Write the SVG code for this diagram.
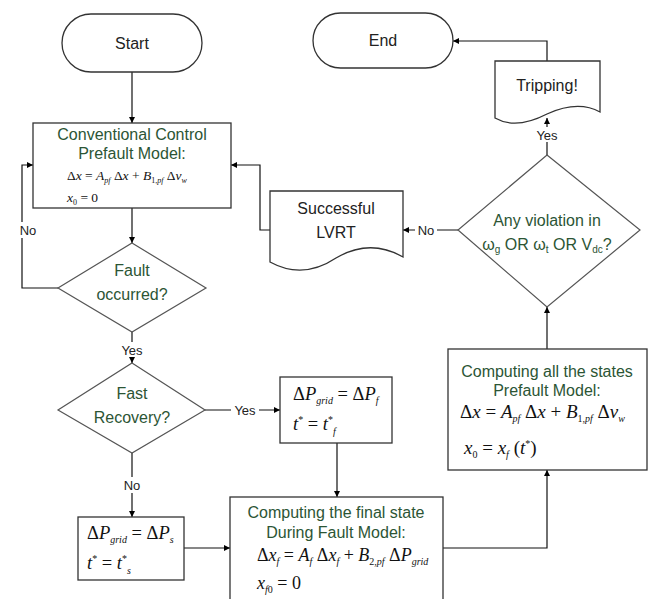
<svg xmlns="http://www.w3.org/2000/svg" width="651" height="599" viewBox="0 0 651 599">
<defs>
<marker id="ah" viewBox="0 0 8 8" refX="8" refY="4" markerWidth="6" markerHeight="6" orient="auto" markerUnits="userSpaceOnUse">
<path d="M0,0 L8,4 L0,8 Z" fill="#000"/>
</marker>
<style>
.shape{fill:#fff;stroke:#333;stroke-width:1.3}
.dia{fill:#fff;stroke:#555;stroke-width:1.2}
.t{font-family:"Liberation Sans",Arial,sans-serif;font-size:16px;fill:#222;text-anchor:middle}
.g{font-family:"Liberation Sans",Arial,sans-serif;font-size:16px;fill:#2c5535;text-anchor:middle}
.lbl{font-family:"Liberation Sans",Arial,sans-serif;font-size:13px;fill:#222;text-anchor:middle}
.m{font-family:"Liberation Serif","Times New Roman",serif;fill:#111}
.i{font-style:italic}
.c{fill:none;stroke:#111;stroke-width:1.2;marker-end:url(#ah)}
.bg{fill:#fff}
</style>
</defs>
<rect width="651" height="599" fill="#fff"/>

<g id="connectors">
<path class="c" d="M132,72 V123"/>
<path class="c" d="M132,208 V243"/>
<path class="c" d="M58,288 H22 V165 H33"/>
<path class="c" d="M132,332 V363"/>
<path class="c" d="M205,410 H280"/>
<path class="c" d="M132,453 V517"/>
<path class="c" d="M337,443 V497"/>
<path class="c" d="M184,548 H230"/>
<path class="c" d="M443,548 H547 V470"/>
<path class="c" d="M547,349 V307"/>
<path class="c" d="M547,155 V118"/>
<path class="c" d="M547,61 V41 H453"/>
<path class="c" d="M458,230 H403"/>
<path class="c" d="M270,230 H260 V165 H231"/>
<rect class="bg" x="16" y="222" width="24" height="16"/>
<text class="lbl" x="28" y="235">No</text>
<rect class="bg" x="118" y="342" width="28" height="15"/>
<text class="lbl" x="132" y="355">Yes</text>
<rect class="bg" x="231" y="403" width="28" height="15"/>
<text class="lbl" x="245" y="415">Yes</text>
<rect class="bg" x="120" y="477" width="24" height="16"/>
<text class="lbl" x="132" y="490">No</text>
<rect class="bg" x="533" y="127" width="28" height="15"/>
<text class="lbl" x="547" y="140">Yes</text>
<rect class="bg" x="415" y="223" width="22" height="15"/>
<text class="lbl" x="426" y="235">No</text>
</g>

<g id="start">
<rect class="shape" x="62" y="14" width="140" height="58" rx="29" ry="29"/>
<text class="t" x="132" y="49" font-size="17">Start</text>
</g>

<g id="end">
<rect class="shape" x="313" y="13" width="140" height="55" rx="27.5" ry="27.5"/>
<text class="t" x="383" y="46" font-size="17">End</text>
</g>

<g id="conventional">
<rect class="shape" x="33" y="123" width="198" height="85"/>
<text class="g" x="132" y="140">Conventional Control</text>
<text class="g" x="132" y="159">Prefault Model:</text>
<text class="m" x="67" y="180" font-size="13.5">Δ<tspan class="i">x</tspan> = <tspan class="i">A</tspan><tspan class="i" font-size="8" dy="3">pf</tspan><tspan dy="-3"> Δ</tspan><tspan class="i">x</tspan> + <tspan class="i">B</tspan><tspan font-size="8" dy="3">1,</tspan><tspan class="i" font-size="8">pf</tspan><tspan dy="-3"> Δ</tspan><tspan class="i">v</tspan><tspan class="i" font-size="8" dy="3">w</tspan></text>
<text class="m" x="67" y="202" font-size="13.5"><tspan class="i">x</tspan><tspan font-size="8" dy="3">0</tspan><tspan dy="-3"> = 0</tspan></text>
</g>

<g id="fault">
<polygon class="dia" points="132,243 206,288 132,332 58,288"/>
<text class="g" x="132" y="276" font-size="17">Fault</text>
<text class="g" x="132" y="300" font-size="17">occurred?</text>
</g>

<g id="fastrecovery">
<polygon class="dia" points="132,363 205,410 132,453 58,410"/>
<text class="g" x="132" y="399" font-size="17">Fast</text>
<text class="g" x="132" y="423" font-size="17">Recovery?</text>
</g>

<g id="pf-box">
<rect class="shape" x="280" y="377" width="112" height="66"/>
<text class="m" x="293" y="400" font-size="18.5">Δ<tspan class="i">P</tspan><tspan class="i" font-size="10" dy="4">grid</tspan><tspan dy="-4"> = Δ</tspan><tspan class="i">P</tspan><tspan class="i" font-size="10" dy="4">f</tspan></text>
<text class="m" x="293" y="430" font-size="18.5"><tspan class="i">t</tspan><tspan font-size="10" dy="-7">*</tspan><tspan dy="7"> = </tspan><tspan class="i">t</tspan><tspan font-size="10" dy="-7">*</tspan><tspan class="i" font-size="10" dy="12">f</tspan></text>
</g>

<g id="ps-box">
<rect class="shape" x="78" y="517" width="106" height="63"/>
<text class="m" x="87" y="539" font-size="18.5">Δ<tspan class="i">P</tspan><tspan class="i" font-size="10" dy="4">grid</tspan><tspan dy="-4"> = Δ</tspan><tspan class="i">P</tspan><tspan class="i" font-size="10" dy="4">s</tspan></text>
<text class="m" x="87" y="569" font-size="18.5"><tspan class="i">t</tspan><tspan font-size="10" dy="-7">*</tspan><tspan dy="7"> = </tspan><tspan class="i">t</tspan><tspan font-size="10" dy="-7">*</tspan><tspan class="i" font-size="10" dy="12">s</tspan></text>
</g>

<g id="final-state">
<rect class="shape" x="230" y="497" width="213" height="110"/>
<text class="g" x="336" y="518">Computing the final state</text>
<text class="g" x="336" y="538">During Fault Model:</text>
<text class="m" x="257" y="561" font-size="18">Δ<tspan class="i">x</tspan><tspan class="i" font-size="10" dy="4">f</tspan><tspan dy="-4"> = </tspan><tspan class="i">A</tspan><tspan class="i" font-size="10" dy="4">f</tspan><tspan dy="-4"> Δ</tspan><tspan class="i">x</tspan><tspan class="i" font-size="10" dy="4">f</tspan><tspan dy="-4"> + </tspan><tspan class="i">B</tspan><tspan font-size="10" dy="4">2,</tspan><tspan class="i" font-size="10">pf</tspan><tspan dy="-4"> Δ</tspan><tspan class="i">P</tspan><tspan class="i" font-size="10" dy="4">grid</tspan></text>
<text class="m" x="257" y="589" font-size="18"><tspan class="i">x</tspan><tspan class="i" font-size="10" dy="4">f</tspan><tspan font-size="10">0</tspan><tspan dy="-4"> = 0</tspan></text>
</g>

<g id="all-states">
<rect class="shape" x="448" y="349" width="199" height="121"/>
<text class="g" x="547" y="377">Computing all the states</text>
<text class="g" x="547" y="396">Prefault Model:</text>
<text class="m" x="460" y="418" font-size="19">Δ<tspan class="i">x</tspan> = <tspan class="i">A</tspan><tspan class="i" font-size="10" dy="4">pf</tspan><tspan dy="-4"> Δ</tspan><tspan class="i">x</tspan> + <tspan class="i">B</tspan><tspan font-size="10" dy="4">1,</tspan><tspan class="i" font-size="10">pf</tspan><tspan dy="-4"> Δ</tspan><tspan class="i">v</tspan><tspan class="i" font-size="10" dy="4">w</tspan></text>
<text class="m" x="464" y="454" font-size="19"><tspan class="i">x</tspan><tspan font-size="10" dy="4">0</tspan><tspan dy="-4"> = </tspan><tspan class="i">x</tspan><tspan class="i" font-size="10" dy="4">f</tspan><tspan dy="-4"> (</tspan><tspan class="i">t</tspan><tspan font-size="10" dy="-7">*</tspan><tspan dy="7">)</tspan></text>
</g>

<g id="violation">
<polygon class="dia" points="547,155 640,230 547,307 458,230"/>
<text class="g" x="547" y="226">Any violation in</text>
<text class="g" x="547" y="250">ω<tspan font-size="10" dy="3">g</tspan><tspan dy="-3">  OR ω</tspan><tspan font-size="10" dy="3">t</tspan><tspan dy="-3"> OR V</tspan><tspan font-size="10" dy="3">dc</tspan><tspan dy="-3">?</tspan></text>
</g>

<g id="tripping">
<path class="shape" d="M495,61 H600 V112 Q578,100 547,114 Q516,130 495,118 Z"/>
<text class="t" x="547" y="91" font-size="17">Tripping!</text>
</g>

<g id="lvrt">
<path class="shape" d="M270,191 H403 V257 Q370,238 336,258 Q303,280 270,262 Z"/>
<text class="t" x="336" y="214" font-size="17">Successful</text>
<text class="t" x="336" y="238" font-size="17">LVRT</text>
</g>
</svg>
